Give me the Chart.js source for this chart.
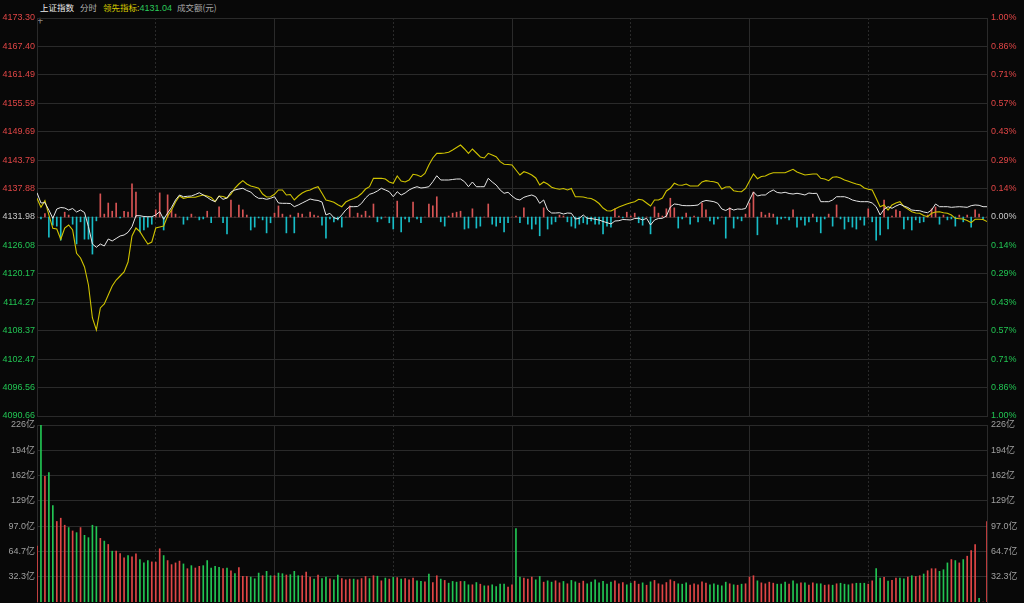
<!DOCTYPE html>
<html>
<head>
<meta charset="utf-8">
<script src="https://cdn.jsdelivr.net/npm/chart.js@4.4.1/dist/chart.umd.min.js"></script>
<style>
  body { margin: 0; background: #080808; width: 1024px; height: 603px; overflow: hidden; position: relative; }
  canvas { position: absolute; left: 0; }
  #priceChart { top: 0; }
  #volChart { top: 410px; }
  .hd { position: absolute; top: 1px; font-size: 8.5px; line-height: 12px; white-space: nowrap;
        font-family: "Noto Sans CJK SC", "Liberation Sans", sans-serif; }
  .num { font-family: "Liberation Sans", sans-serif; font-size: 9px; }
</style>
</head>
<body>
<span class="hd" style="left:40px;color:#ececec">上证指数</span>
<span class="hd" style="left:80px;color:#b4b4b4">分时</span>
<span class="hd" style="left:103px;color:#d8cc00">领先指标:<span class="num" style="color:#2bc85a">4131.04</span></span>
<span class="hd" style="left:177px;color:#a8a8a8">成交额(元)</span>
<span class="hd" style="left:37px;top:14px;color:#8a8a8a;font-size:11px">+</span>

<canvas id="priceChart" width="1024" height="430"></canvas>
<canvas id="volChart" width="1024" height="193"></canvas>

<script>
const prevClose = 4131.98;

// price axis ticks (bottom to top) and the matching percent labels
const priceTicks = [4090.66, 4096.56, 4102.47, 4108.37, 4114.27, 4120.17, 4126.08, 4131.98,
                    4137.88, 4143.79, 4149.69, 4155.59, 4161.49, 4167.40, 4173.30];
const pctLabels = ['1.00%', '0.86%', '0.71%', '0.57%', '0.43%', '0.29%', '0.14%', '0.00%',
                   '0.14%', '0.29%', '0.43%', '0.57%', '0.71%', '0.86%', '1.00%'];

// volume axis ticks (亿)
const volTicks = [32.34, 64.69, 97.03, 129.37, 161.71, 194.06, 226.4];
const volLabels = ['32.3亿', '64.7亿', '97.0亿', '129亿', '162亿', '194亿', '226亿'];

// minutes 0..240 (9:30-11:30, 13:00-15:00), gridlines every half hour
const gridMinutes = [0, 30, 60, 90, 120, 150, 180, 210, 240];

// index (white line)
const priceLine = [
  4137.02, 4134.89, 4134.95, 4133.43, 4131.71, 4133.64, 4133.95, 4133.85, 4133.43, 4133.74,
  4133.02, 4133.43, 4132.91, 4129.97, 4126.37, 4125.69, 4126.37, 4125.96, 4127.41, 4127.00,
  4127.52, 4128.04, 4128.24, 4128.80, 4129.97, 4132.25, 4132.25, 4132.08, 4132.04, 4132.04,
  4132.40, 4133.08, 4131.50, 4132.81, 4133.99, 4135.51, 4136.55, 4136.19, 4136.28, 4136.34,
  4136.65, 4137.02, 4136.55, 4136.07, 4135.51, 4135.16, 4136.34, 4135.65, 4135.92, 4137.17,
  4137.59, 4137.79, 4137.94, 4137.48, 4137.17, 4136.34, 4135.86, 4135.86, 4135.65, 4135.86,
  4136.19, 4134.89, 4134.82, 4134.82, 4134.78, 4134.12, 4134.47, 4134.89, 4135.30, 4135.72,
  4135.51, 4135.41, 4135.09, 4132.40, 4132.75, 4131.83, 4131.56, 4132.40, 4133.43, 4134.12,
  4134.12, 4134.16, 4134.82, 4135.92, 4136.69, 4136.96, 4137.38, 4137.94, 4137.59, 4137.23,
  4136.19, 4137.23, 4136.55, 4136.96, 4137.59, 4138.00, 4138.27, 4138.00, 4138.10, 4138.27,
  4139.31, 4140.55, 4139.66, 4139.66, 4139.66, 4139.77, 4139.87, 4139.87, 4139.31, 4138.27,
  4139.25, 4138.27, 4138.27, 4138.27, 4140.01, 4139.25, 4138.62, 4137.59, 4136.90, 4137.11,
  4136.34, 4135.72, 4135.51, 4136.07, 4136.34, 4136.55, 4136.19, 4134.82, 4135.51, 4133.43,
  4132.81, 4132.81, 4132.87, 4132.60, 4132.81, 4132.75, 4131.56, 4131.71, 4132.40, 4131.71,
  4131.67, 4131.50, 4131.36, 4131.05, 4130.80, 4130.53, 4131.15, 4131.21, 4131.46, 4131.42,
  4131.36, 4131.67, 4131.71, 4131.36, 4131.71, 4130.32, 4131.36, 4131.67, 4131.71, 4132.19,
  4134.06, 4134.68, 4134.58, 4134.37, 4134.33, 4134.33, 4134.37, 4134.47, 4135.16, 4135.41,
  4135.30, 4135.16, 4134.82, 4133.64, 4133.33, 4133.79, 4133.43, 4133.64, 4133.58, 4133.74,
  4135.51, 4137.17, 4136.34, 4136.55, 4136.55, 4137.17, 4137.59, 4137.07, 4136.96, 4137.11,
  4136.86, 4136.75, 4136.90, 4136.75, 4136.55, 4136.96, 4136.86, 4136.90, 4135.16, 4135.16,
  4135.16, 4135.51, 4136.19, 4136.19, 4136.19, 4135.92, 4135.51, 4135.30, 4135.16, 4135.16,
  4135.16, 4134.89, 4134.12, 4132.40, 4133.58, 4134.12, 4133.79, 4134.26, 4134.62, 4134.26,
  4133.95, 4133.43, 4133.33, 4133.29, 4133.02, 4132.87, 4133.43, 4134.68, 4134.12, 4134.12,
  4134.12, 4133.99, 4134.06, 4134.12, 4134.06, 4133.99, 4134.33, 4134.47, 4134.41, 4134.12,
  4134.12
];

// 领先指标 (yellow line)
const leadLine = [
  4135.86, 4133.99, 4135.36, 4132.40, 4129.63, 4129.49, 4127.35, 4129.70, 4130.32, 4129.28,
  4124.44, 4123.47, 4121.60, 4117.86, 4111.01, 4108.52, 4113.09, 4113.92, 4115.79, 4117.66,
  4118.90, 4119.73, 4120.56, 4122.64, 4128.04, 4129.70, 4128.93, 4127.62, 4126.37, 4126.79,
  4129.70, 4129.90, 4130.11, 4132.19, 4133.43, 4135.09, 4136.34, 4135.86, 4136.03, 4136.07,
  4136.07, 4136.34, 4136.55, 4136.34, 4136.03, 4135.16, 4136.34, 4136.24, 4135.92, 4136.75,
  4138.00, 4138.83, 4139.52, 4138.83, 4138.42, 4138.21, 4137.94, 4136.75, 4136.13, 4136.19,
  4136.69, 4137.59, 4137.59, 4136.55, 4136.65, 4135.51, 4136.34, 4136.96, 4137.38, 4137.59,
  4138.00, 4138.27, 4136.90, 4135.51, 4135.30, 4135.03, 4134.53, 4134.12, 4135.09, 4135.51,
  4135.82, 4136.19, 4136.86, 4137.79, 4138.27, 4140.01, 4140.01, 4140.01, 4139.87, 4139.25,
  4138.98, 4140.49, 4139.45, 4139.25, 4139.66, 4140.84, 4140.70, 4140.35, 4141.01, 4142.78,
  4144.23, 4145.20, 4145.20, 4145.27, 4145.41, 4145.89, 4146.41, 4146.93, 4146.10, 4145.20,
  4146.10, 4145.27, 4144.44, 4144.23, 4145.20, 4144.85, 4144.50, 4143.46, 4142.92, 4142.88,
  4142.78, 4141.74, 4140.70, 4141.38, 4141.11, 4140.70, 4140.08, 4138.62, 4139.25, 4138.83,
  4138.15, 4137.90, 4137.73, 4137.90, 4137.59, 4137.90, 4136.19, 4136.19, 4136.13, 4135.92,
  4135.82, 4135.41, 4134.78, 4133.85, 4133.29, 4133.23, 4133.64, 4134.06, 4134.37, 4134.68,
  4134.95, 4135.16, 4135.65, 4135.51, 4134.89, 4134.26, 4135.51, 4135.51, 4135.92, 4137.38,
  4137.94, 4138.98, 4138.62, 4138.56, 4138.83, 4138.42, 4138.42, 4138.42, 4139.25, 4139.52,
  4139.39, 4139.31, 4139.04, 4137.79, 4138.21, 4138.27, 4137.44, 4137.27, 4137.23, 4137.90,
  4139.45, 4140.91, 4139.93, 4140.39, 4140.49, 4140.91, 4141.18, 4141.18, 4141.18, 4141.18,
  4141.53, 4141.88, 4141.32, 4141.01, 4140.70, 4140.80, 4140.91, 4140.91, 4140.01, 4139.87,
  4139.52, 4140.22, 4140.35, 4140.08, 4139.66, 4139.39, 4139.10, 4138.83, 4138.62, 4138.00,
  4137.73, 4137.59, 4135.86, 4134.12, 4134.47, 4133.43, 4134.47, 4134.89, 4135.16, 4134.12,
  4133.64, 4133.08, 4132.81, 4132.75, 4132.29, 4132.04, 4132.75, 4133.02, 4133.08, 4132.87,
  4132.75, 4132.40, 4131.71, 4131.63, 4131.56, 4131.25, 4130.80, 4131.50, 4131.50, 4131.46,
  4131.04
];

// red/green strength bars around the previous close (index points)
const diffBars = [
  0, -0.4, 0.7, -4.2, -1.7, -1.9, -4.8, 1.0, 0.4, -1.5,
  -5.6, -1.0, -4.6, -4.6, -7.7, -0.8, 4.8, 0.6, 2.9, 1.2,
  2.9, -0.2, 1.2, 1.0, 6.9, 5.2, -3.1, -2.7, -2.1, -1.5,
  1.5, 5.0, -2.7, 4.6, 1.5, 0.6, 0, -1.5, -0.6, 0.6,
  0, -0.6, -0.4, 1.2, -1.2, 0, 2.1, -1.2, -3.5, 3.5,
  0, 2.5, 1.5, 0.4, -2.7, -2.1, -0.2, -0.6, -3.3, -1.2,
  0.8, 2.3, 0.6, -3.3, 0.4, -3.3, 0.8, 0.6, 0, 1.0,
  0.4, 0.2, -1.7, -4.4, -0.4, -1.0, -0.6, -2.1, 0, 2.3,
  0, 0.8, 0.4, 1.2, 0.2, 2.7, -1.0, -0.4, 0, -1.2,
  -2.5, 3.3, -3.1, -0.4, -1.0, 3.1, -0.4, -1.2, 0, 2.7,
  2.3, 4.2, -1.0, -1.9, 0.2, 0.8, 1.0, 1.2, -2.5, -2.3,
  1.7, -2.3, -1.9, 0, 2.7, -1.5, -1.9, -1.2, -3.1, -1.2,
  0, 0.2, -1.2, 1.9, -1.5, -2.5, -1.5, -3.9, 1.9, -2.5,
  -1.5, -1.0, 0.4, 0.2, -1.0, -1.9, -2.3, -1.5, -1.2, -1.5,
  -0.8, -1.5, -1.5, -3.5, -1.9, -2.1, 1.7, 0.2, -0.2, 1.0,
  0.2, 0.8, -1.2, -1.7, 0, -3.5, 2.1, 0.8, 0.2, 1.7,
  3.9, 1.9, -2.3, -0.4, 0.8, -1.5, 0.2, -1.0, 2.9, 1.5,
  -0.8, -1.5, -0.4, 0, -4.4, 1.9, -2.3, -0.4, -0.8, 0.6,
  2.9, 5.2, -3.7, 1.0, 0.4, 0.8, 0.6, -1.5, -0.4, -0.2,
  -0.6, 1.5, -2.1, -0.6, -1.7, -1.0, 0.6, -1.0, -3.3, -0.4,
  0.6, -1.9, 2.5, -0.4, -2.5, -1.0, -2.1, -2.5, -0.6, -1.7,
  1.7, -1.0, -4.8, -3.7, 3.5, -2.5, 0.2, 1.5, 1.2, -2.5,
  -0.6, -2.7, -0.6, -1.2, -1.0, 0.4, 1.7, 2.1, -1.5, 0.4,
  -0.6, -0.4, -1.9, 0.4, -1.0, 0.4, -2.1, 1.5, 0.6, -0.4,
  0
];

// turnover per minute (亿元)
const volumes = [
  71.5, 226.0, 160.6, 165.4, 123.2, 103.0, 107.2, 98.2, 95.2, 90.9,
  88.7, 95.2, 85.3, 82.3, 98.2, 96.5, 81.4, 77.9, 73.6, 65.0,
  65.0, 62.0, 56.5, 59.4, 57.7, 61.6, 54.3, 50.0, 53.0, 51.3,
  51.0, 68.1, 59.4, 53.0, 47.8, 50.0, 52.3, 48.7, 42.6, 46.5,
  43.5, 45.6, 46.5, 53.0, 43.5, 45.6, 44.3, 42.6, 43.5, 40.0,
  36.2, 44.0, 32.7, 32.7, 31.9, 29.7, 37.0, 33.6, 39.2, 33.6,
  33.6, 37.0, 36.2, 34.5, 34.9, 39.2, 33.6, 33.6, 38.4, 31.9,
  29.3, 34.5, 30.0, 31.9, 29.7, 28.4, 34.5, 30.0, 28.4, 29.3,
  29.3, 28.4, 30.0, 32.7, 30.0, 33.6, 33.0, 27.1, 30.6, 29.3,
  31.5, 31.2, 29.3, 30.0, 28.4, 30.6, 27.1, 26.3, 25.8, 35.8,
  24.9, 33.6, 29.3, 27.6, 24.1, 26.3, 25.4, 26.3, 26.3, 22.0,
  22.0, 24.9, 22.8, 20.7, 20.7, 22.0, 19.8, 22.8, 22.8, 19.0,
  22.0, 93.9, 31.9, 30.6, 29.3, 31.9, 28.4, 32.7, 25.4, 27.1,
  25.4, 27.1, 24.5, 26.3, 23.3, 27.6, 25.8, 24.1, 26.7, 23.3,
  25.4, 28.4, 24.5, 26.3, 22.8, 25.4, 27.1, 23.3, 24.9, 22.0,
  24.1, 26.7, 22.8, 24.5, 21.5, 25.8, 27.6, 23.3, 22.0, 24.9,
  28.4, 26.3, 23.3, 22.8, 24.5, 21.5, 23.3, 22.0, 25.8, 24.1,
  22.0, 23.3, 21.5, 20.7, 25.4, 23.3, 22.0, 21.5, 22.8, 23.3,
  31.9, 33.6, 27.1, 24.5, 23.3, 25.4, 24.1, 22.8, 22.8, 25.4,
  22.8, 27.1, 23.3, 24.5, 24.5, 21.5, 24.5, 23.3, 23.3, 21.5,
  22.0, 21.5, 23.3, 24.0, 22.8, 22.0, 23.3, 24.0, 24.0, 24.0,
  22.8, 27.1, 42.6, 30.6, 31.4, 26.7, 27.6, 30.6, 30.6, 29.7,
  31.9, 33.6, 32.7, 33.6, 35.8, 40.0, 42.6, 42.6, 39.2, 41.3,
  50.0, 54.3, 53.0, 50.0, 54.3, 58.6, 65.9, 73.6, 4.8, 0,
  103.0
];

// minute closed up (1) or down (-1), decides the volume bar colour
const volDirection = [
  1, -1, 1, -1, -1, 1, 1, 1, -1, 1,
  -1, 1, -1, -1, -1, -1, 1, -1, 1, -1,
  1, 1, 1, -1, 1, 1, -1, -1, -1, 1,
  1, 1, -1, 1, 1, 1, 1, -1, 1, -1,
  1, 1, -1, -1, -1, -1, -1, 1, -1, 1,
  -1, 1, 1, 1, -1, -1, -1, 1, -1, -1,
  1, -1, -1, 1, -1, -1, -1, 1, 1, 1,
  -1, 1, -1, -1, 1, -1, -1, 1, 1, 1,
  -1, 1, 1, 1, -1, 1, -1, 1, -1, 1,
  -1, 1, -1, 1, 1, 1, -1, -1, 1, -1,
  1, 1, -1, 1, -1, -1, -1, 1, -1, -1,
  1, -1, 1, -1, 1, -1, -1, -1, -1, 1,
  1, -1, -1, 1, 1, 1, -1, -1, 1, -1,
  -1, 1, 1, -1, 1, -1, -1, 1, 1, -1,
  -1, -1, -1, -1, -1, -1, 1, 1, 1, -1,
  -1, 1, 1, -1, 1, -1, 1, 1, 1, 1,
  1, 1, -1, -1, -1, 1, 1, 1, 1, 1,
  -1, -1, -1, -1, -1, 1, -1, 1, -1, 1,
  1, 1, -1, 1, 1, 1, 1, -1, -1, -1,
  1, -1, -1, 1, -1, 1, 1, -1, -1, 1,
  1, -1, 1, -1, -1, -1, 1, -1, -1, -1,
  1, 1, -1, -1, 1, -1, 1, 1, -1, -1,
  1, -1, 1, 1, -1, 1, 1, 1, -1, -1,
  -1, 1, -1, 1, -1, 1, 1, 1, -1, 1,
  1
];

const RED = '#e04646';
const GREEN = '#22c553';
const GRID = '#2a2a2a';
const tickFont = { family: '"Liberation Sans", "Noto Sans CJK SC", sans-serif', size: 9 };

function priceColor(v) {
    if (Math.abs(v - prevClose) < 0.005) return '#c8c8c8';
    return v > prevClose ? RED : GREEN;
}

// y axes keep a fixed width and no extra label padding so both panels line up
function fixAxis(s) {
    s.width = 37;
    s.paddingTop = 0;
    s.paddingBottom = 0;
}

// x axis shared by both panels: minutes with solid hour lines and dashed half hours
function minuteAxis() {
    return {
        type: 'linear', min: 0, max: 240, offset: false,
        afterBuildTicks: s => { s.ticks = gridMinutes.map(v => ({ value: v })); },
        afterFit: s => { s.height = 0; },
        ticks: { display: false },
        grid: { color: GRID, drawTicks: false, offset: false },
        border: {
            display: false,
            dash: ctx => (ctx.tick && ctx.tick.value % 60 === 30) ? [2, 2] : []
        }
    };
}

const minutes = priceLine.map((v, i) => i);

new Chart(document.getElementById('priceChart'), {
    type: 'bar',
    data: {
        datasets: [
            {
                type: 'line',
                data: minutes.map(i => ({ x: i, y: priceLine[i] })),
                borderColor: '#e6e6e6', borderWidth: 1, pointRadius: 0, tension: 0,
                yAxisID: 'y', order: 1
            },
            {
                type: 'line',
                data: minutes.map(i => ({ x: i, y: leadLine[i] })),
                borderColor: '#cfc300', borderWidth: 1.1, pointRadius: 0, tension: 0,
                yAxisID: 'y', order: 2
            },
            {
                type: 'bar',
                data: minutes.map(i => ({ x: i, y: [prevClose, prevClose + diffBars[i]] })),
                backgroundColor: diffBars.map(v => v >= 0 ? '#d65454' : '#18bcc6'),
                barThickness: 1, borderWidth: 0,
                yAxisID: 'y', order: 3
            }
        ]
    },
    options: {
        responsive: false, animation: false,
        layout: { padding: { top: 18, bottom: 14, left: 0, right: 0 } },
        plugins: { legend: { display: false }, tooltip: { enabled: false } },
        scales: {
            x: minuteAxis(),
            y: {
                position: 'left',
                min: priceTicks[0], max: priceTicks[priceTicks.length - 1],
                afterBuildTicks: s => { s.ticks = priceTicks.map(v => ({ value: v })); },
                afterFit: fixAxis,
                ticks: {
                    font: tickFont, padding: 2,
                    color: ctx => priceColor(ctx.tick.value),
                    callback: v => v.toFixed(2)
                },
                grid: { color: GRID, drawTicks: false },
                border: { display: true, color: GRID }
            },
            yr: {
                position: 'right',
                min: priceTicks[0], max: priceTicks[priceTicks.length - 1],
                afterBuildTicks: s => { s.ticks = priceTicks.map(v => ({ value: v })); },
                afterFit: fixAxis,
                ticks: {
                    font: tickFont, padding: 4,
                    color: ctx => priceColor(ctx.tick.value),
                    callback: (v, i) => pctLabels[i]
                },
                grid: { display: false, drawTicks: false },
                border: { display: true, color: GRID }
            }
        }
    }
});

new Chart(document.getElementById('volChart'), {
    type: 'bar',
    data: {
        datasets: [{
            data: minutes.map(i => ({ x: i, y: volumes[i] })),
            backgroundColor: volDirection.map(d => d > 0 ? RED : GREEN),
            barThickness: 1, borderWidth: 0,
            yAxisID: 'y'
        }]
    },
    options: {
        responsive: false, animation: false,
        layout: { padding: { top: 15, bottom: 1, left: 0, right: 0 } },
        plugins: { legend: { display: false }, tooltip: { enabled: false } },
        scales: {
            x: minuteAxis(),
            y: {
                position: 'left', min: 0, max: volTicks[volTicks.length - 1],
                afterBuildTicks: s => { s.ticks = volTicks.map(v => ({ value: v })); },
                afterFit: fixAxis,
                ticks: { font: tickFont, padding: 2, color: '#a0a0a0', callback: (v, i) => volLabels[i] },
                grid: { color: GRID, drawTicks: false },
                border: { display: true, color: GRID }
            },
            yr: {
                position: 'right', min: 0, max: volTicks[volTicks.length - 1],
                afterBuildTicks: s => { s.ticks = volTicks.map(v => ({ value: v })); },
                afterFit: fixAxis,
                ticks: { font: tickFont, padding: 4, color: '#a0a0a0', callback: (v, i) => volLabels[i] },
                grid: { display: false, drawTicks: false },
                border: { display: true, color: GRID }
            }
        }
    }
});
</script>
</body>
</html>
